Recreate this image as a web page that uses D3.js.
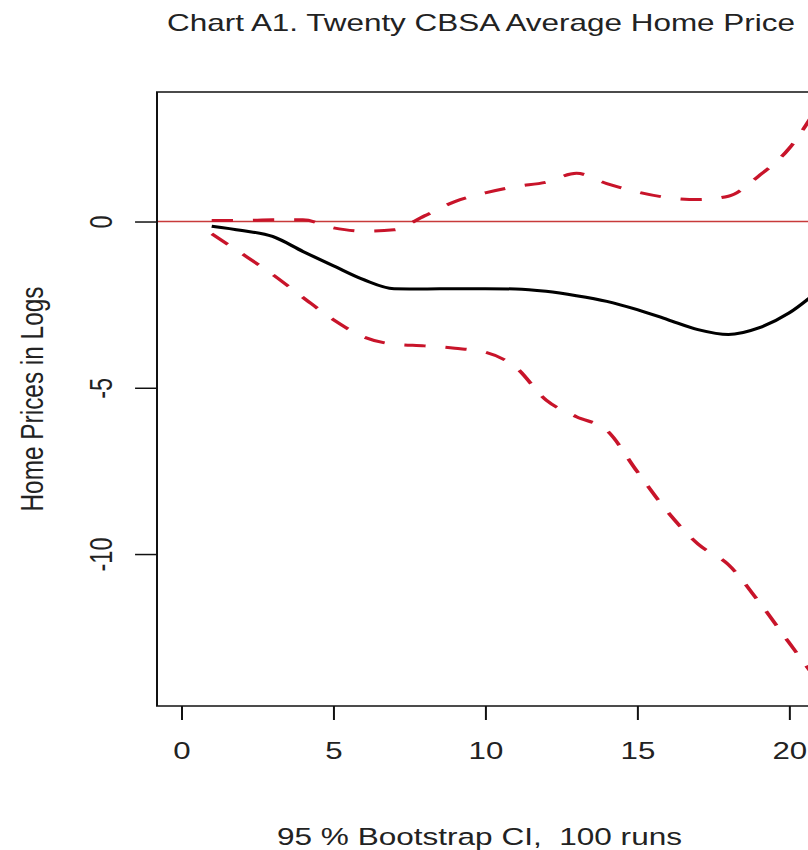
<!DOCTYPE html>
<html>
<head>
<meta charset="utf-8">
<script src="https://cdn.jsdelivr.net/npm/d3@7"></script>
<style>
  body { margin: 0; background: #fff; }
  text { font-family: Arial, "Liberation Sans", sans-serif; fill: #222; }
</style>
</head>
<body>
<div id="chart"></div>
<script>
// horizon (x) and the three curves
const horizon = [1, 2, 3, 4, 5, 6, 7, 8, 9, 10, 11, 12, 13, 14, 15, 16, 17, 18, 19, 20, 21];
const response = [-0.14, -0.27, -0.45, -0.9, -1.33, -1.75, -2.02, -2.03, -2.02, -2.02, -2.03,
  -2.1, -2.23, -2.4, -2.65, -2.95, -3.25, -3.4, -3.2, -2.75, -2.05];
const upperCI = [0.03, 0.03, 0.05, 0.05, -0.19, -0.29, -0.25, 0.17, 0.6, 0.86, 1.05,
  1.18, 1.45, 1.14, 0.89, 0.72, 0.66, 0.76, 1.37, 2.2, 3.55];
const lowerCI = [-0.37, -0.97, -1.59, -2.28, -2.95, -3.47, -3.69, -3.74, -3.81, -3.93, -4.38,
  -5.37, -5.87, -6.28, -7.52, -8.73, -9.7, -10.32, -11.43, -12.67, -13.9];

const xTicks = [0, 5, 10, 15, 20];
const yTicks = [0, -5, -10];

const titleText = "Chart A1. Twenty CBSA Average Home Price";
const xLabel = "95 % Bootstrap CI,  100 runs";
const yLabel = "Home Prices in Logs";

const width = 808;
const height = 850;
// the original plot was stretched sideways, so everything is drawn in a squeezed frame
const sx = 1.33;

const boxLeft = 157, boxRight = 813.5, boxTop = 92, boxBottom = 706;

const svg = d3.select("#chart")
  .append("svg")
  .attr("width", width)
  .attr("height", height);

const g = svg.append("g").attr("transform", `scale(${sx},1)`);

const x = d3.scaleLinear().domain([-0.8, 20.8]).range([boxLeft / sx, boxRight / sx]);
const y = d3.scaleLinear().domain([-14.57, 3.895]).range([boxBottom, boxTop]);

g.append("clipPath")
  .attr("id", "plot-clip")
  .append("rect")
  .attr("x", boxLeft / sx)
  .attr("y", boxTop)
  .attr("width", (boxRight - boxLeft) / sx)
  .attr("height", boxBottom - boxTop);

const plot = g.append("g").attr("clip-path", "url(#plot-clip)");

// zero reference line
plot.append("line")
  .attr("x1", boxLeft / sx)
  .attr("x2", boxRight / sx)
  .attr("y1", y(0))
  .attr("y2", y(0))
  .attr("stroke", "#c83a3a")
  .attr("stroke-width", 1.3);

const line = (vals) => d3.line()
  .x((d, i) => x(horizon[i]))
  .y((d) => y(d))
  .curve(d3.curveMonotoneX)(vals);

[upperCI, lowerCI].forEach((vals) => {
  plot.append("path")
    .attr("d", line(vals))
    .attr("fill", "none")
    .attr("stroke", "#c8142a")
    .attr("stroke-width", 3)
    .attr("stroke-dasharray", "16,15");
});

plot.append("path")
  .attr("d", line(response))
  .attr("fill", "none")
  .attr("stroke", "#000")
  .attr("stroke-width", 3);

// axes
const xAxis = g.append("g")
  .attr("transform", `translate(0,${boxBottom})`)
  .call(d3.axisBottom(x).tickValues(xTicks).tickSize(14).tickFormat((d) => String(d)));
xAxis.select(".domain").remove();
xAxis.selectAll("line").attr("stroke", "#111").attr("stroke-width", 1.5);
xAxis.selectAll("text")
  .attr("y", 53)
  .attr("dy", null)
  .style("font-size", "23.5px")
  .style("fill", "#222");

const yAxis = g.append("g")
  .attr("transform", `translate(${boxLeft / sx},0)`)
  .call(d3.axisLeft(y).tickValues(yTicks).tickSize(16.5).tickFormat((d) => String(d)));
yAxis.select(".domain").remove();
yAxis.selectAll("line").attr("stroke", "#111").attr("stroke-width", 1.5);
yAxis.selectAll("text")
  .attr("x", null)
  .attr("dy", null)
  .attr("text-anchor", "middle")
  .attr("transform", `translate(${(112 - boxLeft) / sx},0) rotate(-90)`)
  .style("font-size", "23.5px")
  .style("fill", "#222");

// plot box
g.append("rect")
  .attr("x", boxLeft / sx)
  .attr("y", boxTop)
  .attr("width", (boxRight - boxLeft) / sx)
  .attr("height", boxBottom - boxTop)
  .attr("fill", "none")
  .attr("stroke", "#111")
  .attr("stroke-width", 1.5);

// labels
g.append("text")
  .attr("x", 481 / sx)
  .attr("y", 31)
  .attr("text-anchor", "middle")
  .attr("textLength", 628 / sx)
  .attr("lengthAdjust", "spacingAndGlyphs")
  .style("font-size", "23px")
  .text(titleText);

g.append("text")
  .attr("x", 479.5 / sx)
  .attr("y", 845)
  .attr("text-anchor", "middle")
  .attr("textLength", 405 / sx)
  .attr("lengthAdjust", "spacingAndGlyphs")
  .style("font-size", "23.5px")
  .style("white-space", "pre")
  .text(xLabel);

g.append("text")
  .attr("transform", `translate(${43 / sx},399) rotate(-90)`)
  .attr("text-anchor", "middle")
  .attr("textLength", 225)
  .attr("lengthAdjust", "spacingAndGlyphs")
  .style("font-size", "24px")
  .text(yLabel);
</script>
</body>
</html>
